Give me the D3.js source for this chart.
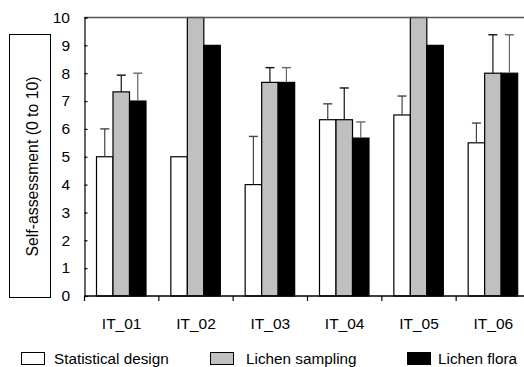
<!DOCTYPE html>
<html><head><meta charset="utf-8">
<script src="https://cdn.jsdelivr.net/npm/d3@7"></script>
<style>body{margin:0;background:#fff}svg{display:block}text{font-family:Arial,"Liberation Sans",sans-serif}</style>
</head><body>
<svg id="c" width="524" height="367"></svg>
<script>
const categories = ["IT_01","IT_02","IT_03","IT_04","IT_05","IT_06"];
const seriesNames = ["Statistical design","Lichen sampling","Lichen flora"];
const statDesign = [5, 5, 4, 6.33, 6.5, 5.5];
const statDesignErr = [1, 0, 1.73, 0.57, 0.68, 0.71];
const lichenSampling = [7.33, 10, 7.67, 6.33, 10, 8];
const lichenSamplingErr = [0.6, 0, 0.53, 1.14, 0, 1.38];
const lichenFlora = [7, 9, 7.67, 5.67, 9, 8];
const lichenFloraErr = [1, 0, 0.53, 0.58, 0, 1.38];
const yTicks = [0,1,2,3,4,5,6,7,8,9,10];

(function () {
const values = [statDesign, lichenSampling, lichenFlora];
const errs = [statDesignErr, lichenSamplingErr, lichenFloraErr];
const fills = ["#ffffff", "#c0c0c0", "#000000"];
const errColors = ["#444", "#111", "#666"];

const svg = d3.select("#c");
const pL = 84.5, pR = 530.5, pT = 17.5, pB = 296;
const x = d3.scaleBand().domain(categories).range([pL, pR]).paddingInner(0).paddingOuter(0);
const inner = d3.scaleBand().domain([0,1,2]).range([12, 12 + 49.5]);
const y = d3.scaleLinear().domain([0, 10]).range([pB, pT]);

values.forEach((vals, s) => {
  const g = svg.append("g");
  g.selectAll("rect").data(vals).join("rect")
    .attr("x", (d, i) => x(categories[i]) + inner(s))
    .attr("y", d => y(d))
    .attr("width", inner.bandwidth())
    .attr("height", d => y(0) - y(d))
    .attr("fill", fills[s]).attr("stroke", "#000").attr("stroke-width", 1.2);
  vals.forEach((d, i) => {
    const e = errs[s][i];
    if (e <= 0) return;
    const cx = x(categories[i]) + inner(s) + inner.bandwidth() / 2;
    const y1 = y(d), y2 = y(Math.min(d + e, 10));
    g.append("line").attr("x1", cx).attr("x2", cx).attr("y1", y1).attr("y2", y2)
      .attr("stroke", errColors[s]).attr("stroke-width", 1.2);
    g.append("line").attr("x1", cx - 4.5).attr("x2", cx + 4.5).attr("y1", y2).attr("y2", y2)
      .attr("stroke", errColors[s]).attr("stroke-width", 1.4);
  });
});

svg.append("line").attr("x1", pL).attr("x2", pR).attr("y1", pT).attr("y2", pT)
  .attr("stroke", "#555").attr("stroke-width", 1.3);

const yAxis = d3.axisRight(y).tickValues(yTicks).tickSize(3).tickFormat("");
const ya = svg.append("g").attr("transform", `translate(${pL},0)`).call(yAxis);
ya.select(".domain").attr("stroke", "#000").attr("stroke-width", 1.2);
ya.selectAll(".tick line").attr("stroke", "#000").attr("stroke-width", 1.2);
svg.append("g").selectAll("text").data(yTicks).join("text")
  .attr("x", 70).attr("y", d => y(d) + 5.3)
  .attr("text-anchor", "end").attr("font-size", 15.5).attr("fill", "#000").text(d => d);

const bounds = categories.map(c => x(c)).concat([pR]);
const xg = svg.append("g");
xg.append("line").attr("x1", pL).attr("x2", pR).attr("y1", pB).attr("y2", pB)
  .attr("stroke", "#000").attr("stroke-width", 1.4);
xg.selectAll("line.t").data(bounds).join("line").attr("class", "t")
  .attr("x1", d => d).attr("x2", d => d).attr("y1", pB).attr("y2", pB + 5)
  .attr("stroke", "#000").attr("stroke-width", 1.2);
xg.selectAll("text").data(categories).join("text")
  .attr("x", d => x(d) + x.bandwidth() / 2).attr("y", 328.5)
  .attr("text-anchor", "middle").attr("font-size", 15.5).attr("fill", "#000").text(d => d);

svg.append("rect").attr("x", 9.5).attr("y", 34.5).attr("width", 41).attr("height", 263)
  .attr("fill", "#fff").attr("stroke", "#000").attr("stroke-width", 1);
svg.append("text").attr("transform", "translate(37.5,166.5) rotate(-90)")
  .attr("text-anchor", "middle").attr("font-size", 15.8).attr("fill", "#000")
  .text("Self-assessment (0 to 10)");

const legX = [21, 210, 407], legTX = [54, 246, 438];
seriesNames.forEach((n, s) => {
  svg.append("rect").attr("x", legX[s] + 0.5).attr("y", 352.5).attr("width", 23).attr("height", 12)
    .attr("fill", fills[s]).attr("stroke", "#000").attr("stroke-width", 1);
  svg.append("text").attr("x", legTX[s]).attr("y", 364).attr("font-size", 15.3).attr("fill", "#000").text(n);
});
})();
</script>
</body></html>
